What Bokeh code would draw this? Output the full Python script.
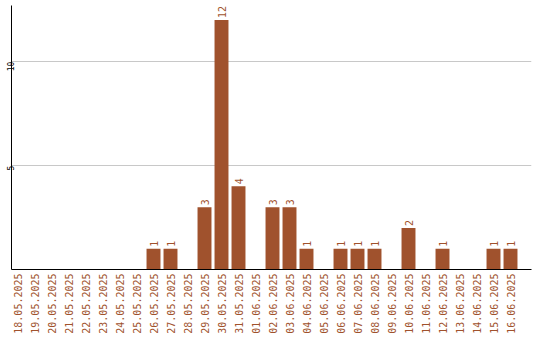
import math
from bokeh.plotting import figure
from bokeh.models import ColumnDataSource, Range1d, FixedTicker
from bokeh.embed import file_html
from bokeh.resources import INLINE

dates = ["18.05.2025", "19.05.2025", "20.05.2025", "21.05.2025", "22.05.2025",
         "23.05.2025", "24.05.2025", "25.05.2025", "26.05.2025", "27.05.2025",
         "28.05.2025", "29.05.2025", "30.05.2025", "31.05.2025", "01.06.2025",
         "02.06.2025", "03.06.2025", "04.06.2025", "05.06.2025", "06.06.2025",
         "07.06.2025", "08.06.2025", "09.06.2025", "10.06.2025", "11.06.2025",
         "12.06.2025", "13.06.2025", "14.06.2025", "15.06.2025", "16.06.2025"]
counts = [0, 0, 0, 0, 0, 0, 0, 0, 1, 1,
          0, 3, 12, 4, 0, 3, 3, 1, 0, 1,
          1, 1, 0, 2, 0, 1, 0, 0, 1, 1]
y_ticks = [5, 10]

COLOR = "#A0522D"
FONT = "DejaVu Sans Mono"

xs = list(range(len(dates)))
src = ColumnDataSource(dict(x=xs, y=counts))
lab_x = [x for x, c in zip(xs, counts) if c > 0]
lab_y = [c for c in counts if c > 0]
lab_t = [str(c) for c in lab_y]
lsrc = ColumnDataSource(dict(x=lab_x, y=lab_y, t=lab_t))

p = figure(width=540, height=340, output_backend="svg", toolbar_location=None,
           x_range=Range1d(-0.353, 30.235), y_range=Range1d(0, 12.7),
           min_border_left=11, min_border_right=9, min_border_top=5,
           min_border_bottom=71)
p.outline_line_color = None
p.background_fill_color = "white"
p.border_fill_color = "white"

p.vbar(x="x", top="y", width=0.82, source=src, fill_color=COLOR, line_color=None)
p.text(x="x", y="y", text="t", source=lsrc, angle=math.pi / 2, y_offset=-2,
       text_align="left", text_baseline="middle", text_color=COLOR,
       text_font={"value": FONT}, text_font_size="10px")

for ax in (p.xaxis, p.yaxis):
    ax.major_tick_out = 0
    ax.major_tick_in = 0
    ax.minor_tick_out = 0
    ax.minor_tick_in = 0
    ax.major_tick_line_color = None
    ax.minor_tick_line_color = None
    ax.axis_line_color = "black"

p.xaxis.ticker = FixedTicker(ticks=xs)
p.xaxis.major_label_overrides = {i: d for i, d in enumerate(dates)}
p.xaxis.major_label_orientation = math.pi / 2
p.xaxis.major_label_text_color = COLOR
p.xaxis.major_label_text_font = FONT
p.xaxis.major_label_text_font_size = "10px"
p.xaxis.major_label_standoff = 4

p.yaxis.ticker = FixedTicker(ticks=y_ticks)
p.yaxis.major_label_orientation = math.pi / 2
p.yaxis.major_label_text_color = "black"
p.yaxis.major_label_text_font = FONT
p.yaxis.major_label_text_font_size = "8px"
p.yaxis.major_label_standoff = 1

p.xgrid.grid_line_color = None
p.ygrid.grid_line_color = "#c8c8c8"
p.ygrid.ticker = FixedTicker(ticks=y_ticks)

open("out.html", "w").write(file_html(p, INLINE))
